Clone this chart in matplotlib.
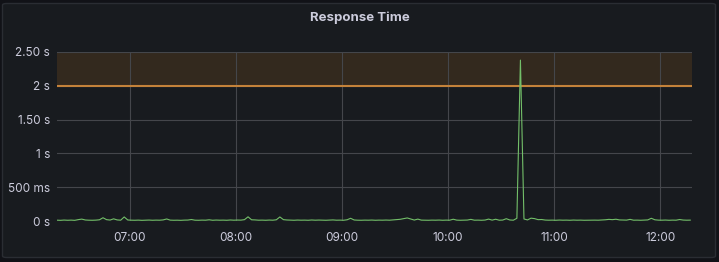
import numpy as np
import pandas as pd
import matplotlib.pyplot as plt
import matplotlib.dates as mdates
from matplotlib.patches import FancyBboxPatch

plt.rcParams["font.family"] = ["Inter", "DejaVu Sans"]

# response time samples (seconds), one every 2 minutes from 06:19
resp = [
    0.012, 0.010, 0.014, 0.011, 0.013, 0.010, 0.020, 0.028, 0.015, 0.012,
    0.011, 0.013, 0.018, 0.048, 0.020, 0.014, 0.032, 0.016, 0.012, 0.060,
    0.015, 0.012, 0.011, 0.013, 0.010, 0.012, 0.014, 0.011, 0.013, 0.012,
    0.016, 0.030, 0.013, 0.011, 0.012, 0.010, 0.013, 0.014, 0.022, 0.012,
    0.011, 0.013, 0.012, 0.018, 0.011, 0.014, 0.012, 0.013, 0.011, 0.015,
    0.012, 0.014, 0.013, 0.020, 0.062, 0.018, 0.016, 0.012, 0.013, 0.011,
    0.014, 0.012, 0.018, 0.060, 0.020, 0.015, 0.013, 0.011, 0.014, 0.012,
    0.013, 0.011, 0.015, 0.012, 0.014, 0.012, 0.011, 0.013, 0.016, 0.012,
    0.013, 0.011, 0.018, 0.040, 0.015, 0.012, 0.011, 0.013, 0.012, 0.014,
    0.011, 0.013, 0.012, 0.014, 0.012, 0.016, 0.020, 0.025, 0.035, 0.045,
    0.030, 0.014, 0.028, 0.013, 0.012, 0.011, 0.013, 0.012, 0.014, 0.011,
    0.013, 0.012, 0.026, 0.013, 0.011, 0.012, 0.014, 0.024, 0.012, 0.013,
    0.011, 0.014, 0.028, 0.013, 0.026, 0.012, 0.014, 0.034, 0.015, 0.012,
    0.040, 2.380, 0.030, 0.016, 0.042, 0.035, 0.020, 0.022, 0.014, 0.012,
    0.013, 0.011, 0.014, 0.012, 0.013, 0.011, 0.014, 0.012, 0.013, 0.011,
    0.012, 0.014, 0.013, 0.012, 0.015, 0.018, 0.024, 0.020, 0.026, 0.016,
    0.014, 0.013, 0.024, 0.012, 0.013, 0.011, 0.014, 0.016, 0.040, 0.018,
    0.013, 0.012, 0.014, 0.011, 0.013, 0.012, 0.022, 0.014, 0.012, 0.013,
]
times = pd.date_range("2024-01-01 06:19", periods=len(resp), freq="2min")

y_ticks = [0, 0.5, 1, 1.5, 2, 2.5]
y_labels = ["0 s", "500 ms", "1 s", "1.50 s", "2 s", "2.50 s"]
x_ticks = ["07:00", "08:00", "09:00", "10:00", "11:00", "12:00"]
threshold = 2.0

fig = plt.figure(figsize=(7.19, 2.62), dpi=100, facecolor="#111217")
panel = FancyBboxPatch((2.5 / 719, 4.5 / 262), 713 / 719, 254 / 262,
                       boxstyle="round,pad=0,rounding_size=0.006",
                       transform=fig.transFigure, facecolor="#181b1f",
                       edgecolor="#2a2d33", linewidth=1, zorder=-5)
fig.patches.append(panel)
fig.text(360 / 719, 1 - 18 / 262, "Response Time", ha="center", va="center",
         color="#ccccdc", fontsize=9.5, fontweight="bold")

ax = fig.add_axes([57 / 719, 1 - 221 / 262, 635 / 719, 169 / 262])
ax.set_facecolor("#181b1f")

ax.axhspan(threshold, 2.5, color="#33291e", zorder=1, linewidth=0)
ax.axhline(threshold, color="#c4823a", linewidth=1.5, zorder=3)
ax.plot(times, resp, color="#73bf69", linewidth=0.8, zorder=4)

ax.set_ylim(0, 2.5)
ax.set_xlim(pd.Timestamp("2024-01-01 06:19"), pd.Timestamp("2024-01-01 12:18"))
ax.set_yticks(y_ticks)
ax.set_yticklabels(y_labels)
ax.set_xticks([pd.Timestamp("2024-01-01 " + t) for t in x_ticks])
ax.set_xticklabels(x_ticks)

ax.grid(True, color="#44464b", linewidth=0.8, zorder=2)
ax.set_axisbelow(False)
for s in ax.spines.values():
    s.set_visible(False)
ax.tick_params(length=0, colors="#ccccdc", labelsize=8.5, pad=5)
ax.tick_params(axis="x", pad=8)

fig.savefig("out.png", dpi=100, facecolor=fig.get_facecolor())
